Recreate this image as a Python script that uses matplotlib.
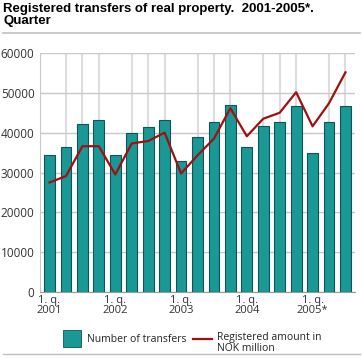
import numpy as np
import matplotlib.pyplot as plt
from matplotlib.patches import Rectangle
from matplotlib.lines import Line2D

# quarterly data 2001 Q1 - 2005 Q3
transfers = [34300, 36400, 42200, 43300, 34300, 39800, 41500, 43200,
             33000, 38800, 42800, 47000, 36300, 41600, 42800, 46600,
             34900, 42700, 46600]
amount = [27500, 29100, 36600, 36600, 29500, 37300, 37900, 40000,
          29750, 34300, 38500, 46150, 39100, 43500, 45000, 50150,
          41600, 47400, 55150]
tick_pos = [0, 4, 8, 12, 16]
tick_labels = ["1. q.\n2001", "1. q.\n2002", "1. q.\n2003", "1. q.\n2004", "1. q.\n2005*"]

bar_color = "#1a9896"
line_color = "#a01010"
plt.rcParams['font.family'] = ['Open Sans', 'DejaVu Sans']

fig = plt.figure(figsize=(3.63, 3.58), dpi=100)
ax = fig.add_axes([40/363, 1-292/358, 315/363, 239/358])

x = np.arange(len(transfers))
ax.bar(x, transfers, width=0.66, color=bar_color, edgecolor="#0e5553", linewidth=0.8, zorder=3)
ax.plot(x, amount, color=line_color, linewidth=1.6, zorder=4)

ax.set_xlim(-0.58, len(transfers) - 0.42)
ax.set_ylim(0, 60000)
ax.set_yticks(range(0, 60001, 10000))
ax.set_xticks(x, minor=True)
ax.set_xticks(tick_pos)
ax.set_xticklabels(tick_labels, fontsize=8, color="#333333", linespacing=0.85)
ax.tick_params(axis="y", labelsize=8.5, labelcolor="#333333", length=0, pad=4)
ax.tick_params(axis="x", length=0, pad=2, which="both")
ax.grid(axis="y", color="#c8c8c8", linewidth=1, zorder=0)
ax.grid(axis="x", which="minor", color="#dddddd", linewidth=1.5, zorder=0)
for s in ["top", "right"]:
    ax.spines[s].set_visible(False)
ax.spines["left"].set_color("#c8c8c8")
ax.spines["bottom"].set_color("#999999")

fig.text(3/363, 1-3/358, "Registered transfers of real property.  2001-2005*.\nQuarter",
         fontsize=9.5, fontweight="bold", va="top", ha="left", linespacing=1.05,
         family=['Liberation Sans', 'DejaVu Sans'])
fig.add_artist(Line2D([3/363, 360/363], [1-33/358, 1-33/358], color="#c0c0c0", linewidth=1.2))
fig.add_artist(Line2D([3/363, 360/363], [1-354/358, 1-354/358], color="#c0c0c0", linewidth=1.0))

# legend
fig.add_artist(Rectangle((63/363, 1-347/358), 18/363, 17/358, facecolor=bar_color,
                         edgecolor="#0e5553", linewidth=0.6, transform=fig.transFigure))
fig.text(87/363, 1-339/358, "Number of transfers", fontsize=7.5, va="center", color="#222222")
fig.add_artist(Line2D([193/363, 212/363], [1-339/358, 1-339/358], color=line_color, linewidth=1.6))
fig.text(217/363, 1-332/358, "Registered amount in\nNOK million", fontsize=7.5, va="top",
         color="#222222", linespacing=0.95)

fig.savefig("out.png", dpi=100)
